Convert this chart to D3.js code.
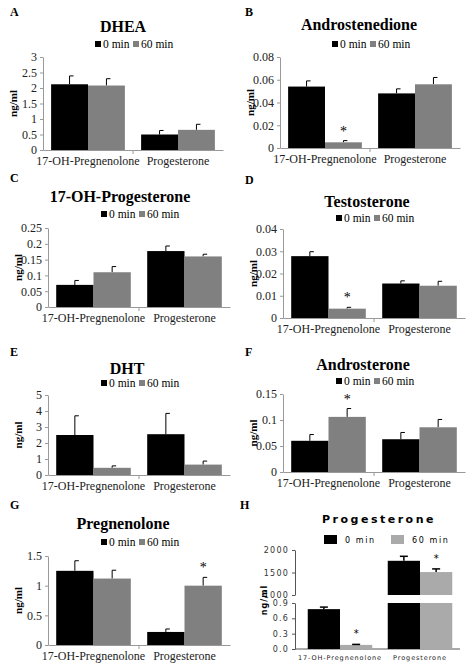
<!DOCTYPE html>
<html><head><meta charset="utf-8">
<script src="https://cdn.jsdelivr.net/npm/d3@7"></script>
<style>body{margin:0;background:#fff} .sf, .sf text{font-family:'Liberation Serif','Times New Roman','DejaVu Serif',serif !important}</style>
</head><body>
<svg width="474" height="663"></svg>
<script>
const svg = d3.select("svg");

const categories = ["17-OH-Pregnenolone", "Progesterone"];
const series = ["0 min", "60 min"];
const letters = ["A", "B", "C", "D", "E", "F", "G"];
const titles = ["DHEA", "Androstenedione", "17-OH-Progesterone", "Testosterone", "DHT", "Androsterone", "Pregnenolone"];
const zeroMin = [[2.12, 0.5], [0.054, 0.048], [0.07, 0.177], [0.0278, 0.0155], [2.5, 2.55], [0.06, 0.063], [1.25, 0.22]];
const zeroErr = [[0.27, 0.13], [0.005, 0.004], [0.014, 0.016], [0.002, 0.0012], [1.2, 1.3], [0.012, 0.013], [0.17, 0.05]];
const sixtyMin = [[2.08, 0.65], [0.005, 0.056], [0.11, 0.16], [0.0042, 0.0145], [0.45, 0.65], [0.106, 0.086], [1.12, 1.0]];
const sixtyErr = [[0.22, 0.18], [0.0015, 0.006], [0.018, 0.007], [0.0006, 0.002], [0.12, 0.22], [0.016, 0.015], [0.14, 0.14]];
const stars = [[], [0], [], [0], [], [0], [1]];
const yTicks = [
	[0, 0.5, 1, 1.5, 2, 2.5, 3],
	[0, 0.02, 0.04, 0.06, 0.08],
	[0, 0.05, 0.1, 0.15, 0.2, 0.25],
	[0, 0.01, 0.02, 0.03, 0.04],
	[0, 1, 2, 3, 4, 5],
	[0, 0.05, 0.1, 0.15],
	[0, 0.5, 1, 1.5]
];
// panel H (broken axis)
const progZero = [0.78, 1760];
const progZeroErr = [0.04, 100];
const progSixty = [0.08, 1510];
const progSixtyErr = [0.01, 70];
const progLowTicks = [0, 0.3, 0.6, 0.9];
const progHighTicks = [1000, 1500, 2000];

// layout: letter pos, title pos, legend y, plot box
const layout = [
	{lx: 10, ly: 16, tx: 123, ty: 32, gy: 48, x0: 43, x1: 223, yTop: 57, yBot: 150},
	{lx: 245, ly: 16, tx: 359, ty: 30, gy: 48, x0: 280, x1: 460, yTop: 57, yBot: 148},
	{lx: 10, ly: 182, tx: 120, ty: 202, gy: 218, x0: 48, x1: 230, yTop: 228, yBot: 307},
	{lx: 245, ly: 184, tx: 367, ty: 207, gy: 222, x0: 283, x1: 465, yTop: 229, yBot: 318},
	{lx: 10, ly: 356, tx: 127, ty: 374, gy: 387, x0: 48, x1: 230, yTop: 395, yBot: 475},
	{lx: 245, ly: 356, tx: 363, ty: 370, gy: 385, x0: 283, x1: 465, yTop: 394, yBot: 472},
	{lx: 10, ly: 509, tx: 123, ty: 529, gy: 546, x0: 48, x1: 230, yTop: 556, yBot: 645}
];
const colors = ["#000", "#808080"];

function fmt(v) { return String(+v.toFixed(4)); }

layout.forEach((L, i) => {
	const g = svg.append("g").attr("class", "sf");
	g.append("text").attr("x", L.lx).attr("y", L.ly).text(letters[i])
		.style("font-size", "12px").style("font-weight", "bold");
	g.append("text").attr("x", L.tx).attr("y", L.ty).attr("text-anchor", "middle").text(titles[i])
		.style("font-size", "16px").style("font-weight", "bold");
	const lg = g.append("g").attr("transform", `translate(${(L.x0 + L.x1) / 2 - 38},${L.gy})`);
	series.forEach((s, k) => {
		const ox = k * 38;
		lg.append("rect").attr("x", ox).attr("y", -7).attr("width", 6).attr("height", 6).attr("fill", colors[k]);
		lg.append("text").attr("x", ox + 8).attr("y", 0).text(s).style("font-size", "11.5px");
	});

	const y = d3.scaleLinear().domain([0, d3.max(yTicks[i])]).range([L.yBot, L.yTop]);
	const x = d3.scaleBand().domain(categories).range([L.x0, L.x1]);
	const xs = d3.scaleBand().domain(series).range([0, x.bandwidth()]).paddingInner(0).paddingOuter(0.22);

	const ya = g.append("g").attr("transform", `translate(${L.x0},0)`)
		.call(d3.axisLeft(y).tickValues(yTicks[i]).tickFormat(fmt).tickSize(3).tickSizeOuter(0));
	ya.selectAll("text").style("font-size", "12px").attr("fill", "#222");
	ya.select(".domain").attr("stroke", "#999");
	ya.selectAll(".tick line").attr("stroke", "#999");

	const xa = g.append("g").attr("transform", `translate(0,${L.yBot})`)
		.call(d3.axisBottom(x).tickSize(0).tickPadding(6));
	xa.select(".domain").attr("stroke", "#999");
	xa.selectAll("text").style("font-size", "12px").attr("fill", "#222");
	g.append("line").attr("x1", (L.x0 + L.x1) / 2).attr("x2", (L.x0 + L.x1) / 2)
		.attr("y1", L.yBot).attr("y2", L.yBot + 4).attr("stroke", "#999");

	g.append("text").attr("transform", `translate(${L.x0 - 26},${(L.yTop + L.yBot) / 2}) rotate(-90)`)
		.attr("text-anchor", "middle").text("ng/ml").style("font-size", "11px").style("font-weight", "bold");

	const vals = [zeroMin[i], sixtyMin[i]], errs = [zeroErr[i], sixtyErr[i]];
	series.forEach((s, k) => {
		categories.forEach((c, j) => {
			const bx = x(c) + xs(s), bw = xs.bandwidth(), cx = bx + bw / 2;
			const v = vals[k][j], e = errs[k][j];
			g.append("line").attr("x1", cx).attr("x2", cx).attr("y1", y(v)).attr("y2", y(v + e)).attr("stroke", "#000");
			g.append("line").attr("x1", cx).attr("x2", cx + 4).attr("y1", y(v + e)).attr("y2", y(v + e)).attr("stroke", "#000");
			g.append("rect").attr("x", bx).attr("y", y(v)).attr("width", bw).attr("height", L.yBot - y(v)).attr("fill", colors[k]);
			if (k === 1 && stars[i].includes(j))
				g.append("text").attr("x", cx).attr("y", y(v + e) - 5).attr("text-anchor", "middle").text("*").style("font-size", "14px");
		});
	});
});

// Panel H
(function () {
	const sans = "DejaVu Sans, sans-serif";
	const g = svg.append("g").style("font-family", sans);
	const hColors = ["#000", "#aaa"];
	g.append("text").attr("x", 240).attr("y", 509).text("H").attr("class", "sf").style("font-size", "12px").style("font-weight", "bold");
	g.append("text").attr("x", 379).attr("y", 523).attr("text-anchor", "middle").text("Progesterone")
		.style("font-size", "11px").style("font-weight", "bold").style("letter-spacing", "2.5px");
	series.forEach((s, k) => {
		const ox = 324 + k * 67;
		g.append("rect").attr("x", ox).attr("y", 535).attr("width", 13).attr("height", 9).attr("fill", hColors[k]);
		g.append("text").attr("x", ox + 21).attr("y", 543).text(s).style("font-size", "8px").style("letter-spacing", "1.6px");
	});
	const x = d3.scaleBand().domain(categories).range([300, 460]);
	const xs = d3.scaleBand().domain(series).range([0, x.bandwidth()]).paddingOuter(0.24);
	const yHi = d3.scaleLinear().domain([1000, 2000]).range([595, 550]);
	const yLo = d3.scaleLinear().domain([0, 0.9]).range([649, 603]);
	[[yHi, progHighTicks], [yLo, progLowTicks]].forEach(([sc, tv]) => {
		const a = g.append("g").attr("transform", "translate(295,0)")
			.call(d3.axisLeft(sc).tickValues(tv).tickFormat(v => v >= 1000 ? v : v.toFixed(1)).tickSize(3).tickSizeOuter(0));
		a.selectAll("text").style("font-size", "8px").style("letter-spacing", "1.2px").style("font-family", sans).attr("fill", "#333");
		a.selectAll(".domain,.tick line").attr("stroke", "#555");
	});
	const xa = g.append("g").attr("transform", "translate(0,649)").call(d3.axisBottom(x).tickSize(0).tickPadding(6));
	xa.select(".domain").remove();
	xa.selectAll("text").style("font-size", "6.5px").style("letter-spacing", "0.9px").style("font-family", sans).attr("fill", "#222");
	g.append("line").attr("x1", 295).attr("x2", 460).attr("y1", 649).attr("y2", 649).attr("stroke", "#555");
	g.append("text").attr("transform", "translate(267,600) rotate(-90)").attr("text-anchor", "middle")
		.text("ng/ml").style("font-size", "8px").style("font-weight", "bold").style("letter-spacing", "1px");
	const vals = [progZero, progSixty], errs = [progZeroErr, progSixtyErr];
	series.forEach((s, k) => {
		categories.forEach((c, j) => {
			const bx = x(c) + xs(s), bw = xs.bandwidth(), cx = bx + bw / 2;
			const v = vals[k][j], e = errs[k][j];
			const sc = v > 1 ? yHi : yLo;
			if (v > 1) {
				g.append("rect").attr("x", bx).attr("y", yLo(0.9)).attr("width", bw).attr("height", 649 - yLo(0.9)).attr("fill", hColors[k]);
				g.append("rect").attr("x", bx).attr("y", yHi(v)).attr("width", bw).attr("height", 595 - yHi(v)).attr("fill", hColors[k]);
			} else {
				g.append("rect").attr("x", bx).attr("y", yLo(v)).attr("width", bw).attr("height", 649 - yLo(v)).attr("fill", hColors[k]);
			}
			g.append("line").attr("x1", cx).attr("x2", cx).attr("y1", sc(v)).attr("y2", sc(v + e)).attr("stroke", "#000").attr("stroke-width", 1.5);
			g.append("line").attr("x1", cx - 4).attr("x2", cx + 4).attr("y1", sc(v + e)).attr("y2", sc(v + e)).attr("stroke", "#000").attr("stroke-width", 1.5);
			if (k === 1)
				g.append("text").attr("x", cx).attr("y", sc(v + e) - 7).attr("text-anchor", "middle").text("*").style("font-size", "10px");
		});
	});
})();
</script>
</body></html>
